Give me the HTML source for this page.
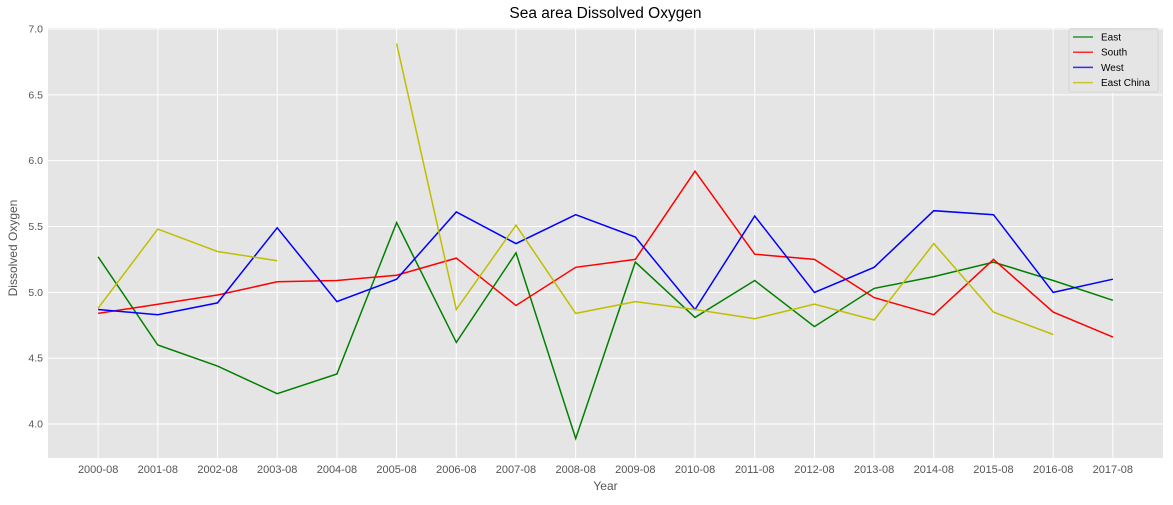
<!DOCTYPE html>
<html><head><meta charset="utf-8"><style>
body{margin:0;background:#fff;font-family:"Liberation Sans","DejaVu Sans",sans-serif}
svg text{font-family:"Liberation Sans","DejaVu Sans",sans-serif}
</style></head><body>
<svg id="chart" width="1173" height="500"></svg>
<script>
const categories=["2000-08","2001-08","2002-08","2003-08","2004-08","2005-08","2006-08","2007-08","2008-08","2009-08","2010-08","2011-08","2012-08","2013-08","2014-08","2015-08","2016-08","2017-08"];
const eastValues=[5.27,4.60,4.44,4.23,4.38,5.53,4.62,5.30,3.89,5.23,4.81,5.09,4.74,5.03,5.12,5.23,5.09,4.94];
const southValues=[4.84,4.91,4.98,5.08,5.09,5.13,5.26,4.90,5.19,5.25,5.92,5.29,5.25,4.96,4.83,5.25,4.85,4.66];
const westValues=[4.87,4.83,4.92,5.49,4.93,5.10,5.61,5.37,5.59,5.42,4.87,5.58,5.00,5.19,5.62,5.59,5.00,5.10];
const eastChinaValues=[4.88,5.48,5.31,5.24,null,6.89,4.87,5.51,4.84,4.93,4.87,4.80,4.91,4.79,5.37,4.85,4.68,null];
const yTicks=["4.0","4.5","5.0","5.5","6.0","6.5","7.0"];
const seriesNames=["East","South","West","East China"];
const seriesColors=["#008000","#ff0000","#0000ff","#bfbf00"];

const svg=document.getElementById('chart');
const NS='http://www.w3.org/2000/svg';
const L=48,R=1163,T=28,B=458;
const yMin=3.742,yMax=7.0076;
const xMin=-0.84,xMax=17.84;
const xs=i=>L+(i-xMin)/(xMax-xMin)*(R-L);
const ys=v=>B-(v-yMin)/(yMax-yMin)*(B-T);
function mk(tag,attrs,parent){const e=document.createElementNS(NS,tag);for(const k in attrs)e.setAttribute(k,attrs[k]);(parent||svg).appendChild(e);return e;}

const bg=mk('rect',{x:L,y:T,width:R-L,height:B-T,fill:'#e5e5e5'});



yTicks.forEach(t=>{const y=ys(+t);
 const g=mk('line',{x1:L,x2:R,y1:y,y2:y,stroke:'#fff','stroke-width':1});
 
 
 const tx=mk('text',{x:L-5,y:y+3.5,'text-anchor':'end','font-size':10.5,fill:'#555'});tx.textContent=t;
 
 
});
categories.forEach((c,i)=>{const x=xs(i);
 const g=mk('line',{x1:x,x2:x,y1:T,y2:B,stroke:'#fff','stroke-width':1});
 
 
 const tx=mk('text',{x:x,y:B+15,'text-anchor':'middle','font-size':11,fill:'#555'});tx.textContent=c;
 
 
});

const allSeries=[eastValues,southValues,westValues,eastChinaValues];
allSeries.forEach((vals,si)=>{
 let d='',pen=false;
 vals.forEach((v,i)=>{if(v===null){pen=false;return;}d+=(pen?'L':'M')+xs(i).toFixed(1)+' '+ys(v).toFixed(1)+' ';pen=true;});
 const p=mk('path',{d:d,fill:'none',stroke:seriesColors[si],'stroke-width':1.5});
 
 
});

const title=mk('text',{x:(L+R)/2,y:18,'text-anchor':'middle','font-size':15.5,fill:'#000'});title.textContent='Sea area Dissolved Oxygen';


const xt=mk('text',{x:(L+R)/2,y:490,'text-anchor':'middle','font-size':12,fill:'#555'});xt.textContent='Year';


const yt=mk('text',{x:17,y:(T+B)/2+5,'text-anchor':'middle','font-size':12,fill:'#555',transform:`rotate(-90 17 ${(T+B)/2+5})`});yt.textContent='Dissolved Oxygen';



const lg=mk('g',{});


mk('rect',{x:1069,y:29,width:89,height:63,rx:2,fill:'#e5e5e5',stroke:'#d5d5d5','stroke-width':1},lg);
seriesNames.forEach((n,i)=>{const y=37+i*15.2;
 const ln=mk('line',{x1:1073,x2:1093,y1:y,y2:y,stroke:seriesColors[i],'stroke-width':1.5,'stroke-opacity':0.8},lg);
 
 
 const t=mk('text',{x:1101,y:y+3.5,'font-size':10,fill:'#000'},lg);t.textContent=n;
 
 
});
</script>
</body></html>
